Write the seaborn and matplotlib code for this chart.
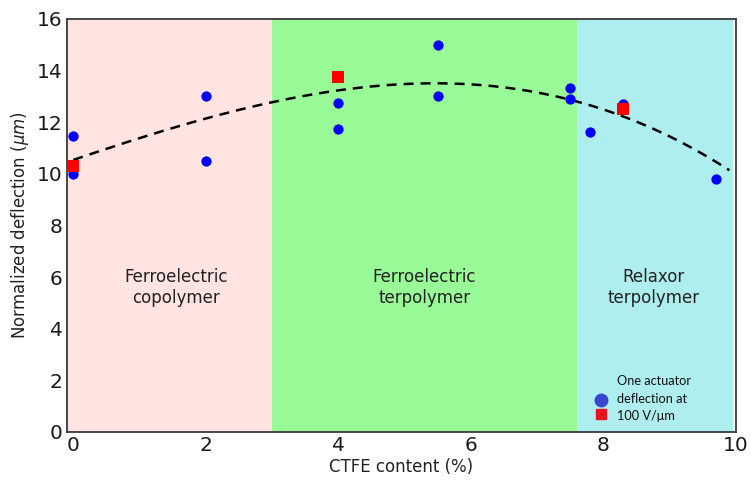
import numpy as np
import pandas as pd
import matplotlib
matplotlib.use("Agg")
import matplotlib.pyplot as plt
from matplotlib.lines import Line2D
import seaborn as sns

# Individual actuator measurements (CTFE content %, normalized deflection um)
ctfe_single = [0, 0, 2, 2, 4, 4, 5.5, 5.5, 7.5, 7.5, 7.8, 8.3, 9.7]
defl_single = [11.45, 10.0, 13.0, 10.5, 12.75, 11.75, 15.0, 13.0, 13.3, 12.9, 11.6, 12.7, 9.8]

# Deflection at 100 V/um
ctfe_100v = [0, 4, 8.3]
defl_100v = [10.3, 13.75, 12.5]

# Polynomial trend coefficients (highest power first)
trend_coeffs = [-0.0072, -0.0209, 0.8721, 10.534]

# Composition regions
region_edges = [-0.1, 3.0, 7.6, 9.95]
region_colors = ["#FFE4E1", "#98FB98", "#AFEEEE"]
region_labels = ["Ferroelectric\ncopolymer", "Ferroelectric\nterpolymer", "Relaxor\nterpolymer"]
region_label_x = [1.55, 5.3, 8.75]

sns.set_style("white")
plt.rcParams["font.family"] = ["DejaVu Sans"]

fig = plt.figure(figsize=(7.51, 4.83), dpi=100)
ax = fig.add_axes([0.0888, 0.1056, 0.8912, 0.8556])

for i, col in enumerate(region_colors):
    ax.axvspan(region_edges[i], region_edges[i + 1], color=col, lw=0, zorder=0)
    ax.text(region_label_x[i], 5.6, region_labels[i], ha="center", va="center",
            fontsize=12, color="#222222", linespacing=1.2, zorder=1)

xs = np.linspace(0, 9.9, 300)
ax.plot(xs, np.polyval(trend_coeffs, xs), color="black", lw=1.8,
        dashes=(4, 2.8), zorder=2)

single = pd.DataFrame({"ctfe": ctfe_single, "defl": defl_single})
v100 = pd.DataFrame({"ctfe": ctfe_100v, "defl": defl_100v})
sns.scatterplot(data=single, x="ctfe", y="defl", ax=ax, color="#0000FF",
                marker="o", s=55, linewidth=0, zorder=3, clip_on=False)
sns.scatterplot(data=v100, x="ctfe", y="defl", ax=ax, color="#FF0000",
                marker="s", s=80, linewidth=0, zorder=4, clip_on=False)

ax.set_xlim(region_edges[0], region_edges[-1])
ax.set_ylim(0, 16)
ax.set_xticks([0, 2, 4, 6, 8, 10])
ax.set_yticks(range(0, 17, 2))
ax.tick_params(axis="both", length=0, labelsize=14.5, colors="#1a1a1a")
ax.tick_params(axis="x", pad=3)
ax.tick_params(axis="y", pad=3)
ax.set_xlabel("CTFE content (%)", fontsize=12, color="#222222", labelpad=2)
ax.set_ylabel(r"Normalized deflection ($\mu m$)", fontsize=12,
              color="#222222", labelpad=4)
for sp in ax.spines.values():
    sp.set_visible(True)
    sp.set_color("#3a3a3a")
    sp.set_linewidth(1.3)

# Legend keys and caption
handles = [
    Line2D([], [], marker="o", ls="none", color="#3A46D0", markersize=9),
    Line2D([], [], marker="s", ls="none", color="#E8141C", markersize=7.5),
]
ax.legend(handles=handles, labels=["", ""], loc="center",
          bbox_to_anchor=(0.798, 0.058), frameon=False,
          labelspacing=0.0, handlelength=0.8, handletextpad=0,
          borderpad=0, borderaxespad=0)
ax.text(0.822, 0.08, "One actuator\ndeflection at\n100 V/\u03bcm",
        transform=ax.transAxes, ha="left", va="center", fontsize=9.2,
        family=["Lato", "DejaVu Sans"], color="#111111", linespacing=1.55)

fig.savefig("out.png", dpi=100)
